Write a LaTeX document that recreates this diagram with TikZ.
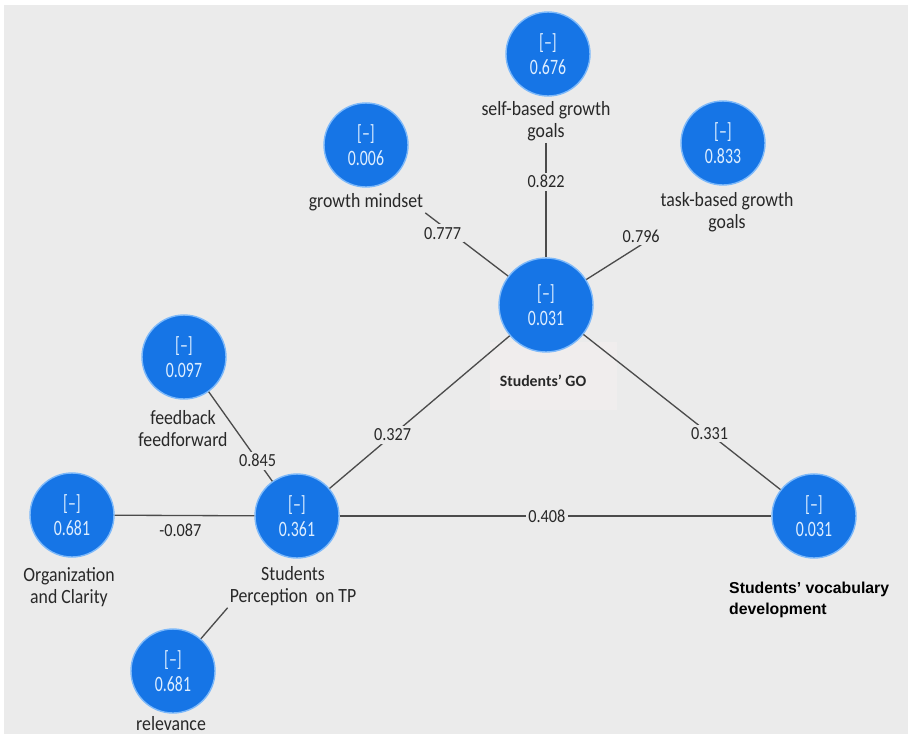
\documentclass[tikz,border=0pt]{standalone}
\usepackage{fontspec}
\setmainfont{Carlito}
\newfontfamily\valfont[FakeStretch=0.72]{Carlito}
\newfontfamily\labfont[FakeStretch=0.88]{Carlito}
\newfontfamily\arialfont{Liberation Sans}
\definecolor{bggray}{RGB}{235,235,235}
\definecolor{boxgray}{RGB}{240,237,237}
\definecolor{lvblue}{RGB}{22,117,230}
\definecolor{lvedge}{RGB}{125,185,250}
\definecolor{lvtext}{RGB}{222,238,255}
\definecolor{linegray}{RGB}{75,75,75}
\definecolor{labgray}{RGB}{40,40,40}
\begin{document}
\begin{tikzpicture}[x=0.02cm, y=-0.02cm]
      \tikzstyle{STY1} = [circle, fill=lvblue, draw=lvedge, line width=0.8pt, minimum size=1.68cm, inner sep=0pt, align=center, text=lvtext, font=\valfont\fontsize{12.5}{14}\selectfont]
      \tikzstyle{STY2} = [-, draw=linegray, line width=0.75pt]
      \tikzstyle{STY3} = [align=center, text=labgray, fill=bggray, inner sep=1pt, font=\labfont\fontsize{11.5}{12.5}\selectfont]
      \tikzstyle{STY4} = [fill=bggray, inner sep=1.5pt, text=labgray, font=\labfont\fontsize{10.5}{12}\selectfont]

      \useasboundingbox (0,0) rectangle (908,737);
      \fill[bggray] (4,5) rectangle (908,734);
      \fill[boxgray] (490,342) rectangle (617,410);

      %%%%% VERTEX

      \node[STY1](v0) at (548, 54) {[–]\\0.676};
      \node[STY1](v1) at (366,145) {[–]\\0.006};
      \node[STY1](v2) at (723,143) {[–]\\0.833};
      \node[STY1, minimum size=1.88cm](v3) at (546,305) {[–]\\0.031};
      \node[STY1](v4) at (184,357) {[–]\\0.097};
      \node[STY1](v5) at (297,516) {[–]\\0.361};
      \node[STY1](v6) at ( 72,515) {[–]\\0.681};
      \node[STY1](v7) at (173,671) {[–]\\0.681};
      \node[STY1](v8) at (814,516) {[–]\\0.031};

      %%%%% LABELS

      \node[STY3](l0) at (546,121) {self-based growth\\goals};
      \node[STY3](l1) at (366,202) {growth mindset};
      \node[STY3](l2) at (727,212) {task-based growth\\goals};
      \node[STY3](l3) at (183,429) {feedback\\feedforward};
      \node[STY3](l4) at (293,586) {Students\\Perception\ \ on TP};
      \node[STY3](l5) at ( 69,587) {Organization\\and Clarity};
      \node[STY3](l6) at (171,724) {relevance};
      \node[text=labgray, font=\bfseries\fontsize{9}{11}\selectfont](l7) at (543,381) {Students’ GO};
      \node[anchor=west, align=left, text=black, font=\arialfont\bfseries\fontsize{9}{12}\selectfont](l8) at (723,600) {Students’ vocabulary\\development};

      %%%%% EDGES
      \draw[STY2]  (l0) edge node[STY4, pos=0.34] {0.822} (v3);
      \draw[STY2]  (l1.south east) edge node[STY4, pos=0.21, yshift=-4pt] {0.777} (v3);
      \draw[STY2]  (l2.south west) edge node[STY4, pos=0.24, yshift=5pt] {0.796} (v3);

      \draw[STY2]  (v3) edge node[STY4, pos=0.65] {0.327} (v5);
      \draw[STY2]  (v3) edge node[STY4, pos=0.64] {0.331} (v8);
      \draw[STY2]  (v5) edge node[STY4, pos=0.48] {0.408} (v8);

      \draw[STY2]  (v4) edge node[STY4, pos=0.77] {0.845} (v5);
      \draw[STY2]  (v6) edge node[STY4, pos=0.47, below=3pt] {-0.087} (v5);
      \draw[STY2]  (v7) edge (l4.south west);
    \end{tikzpicture}
\end{document}
